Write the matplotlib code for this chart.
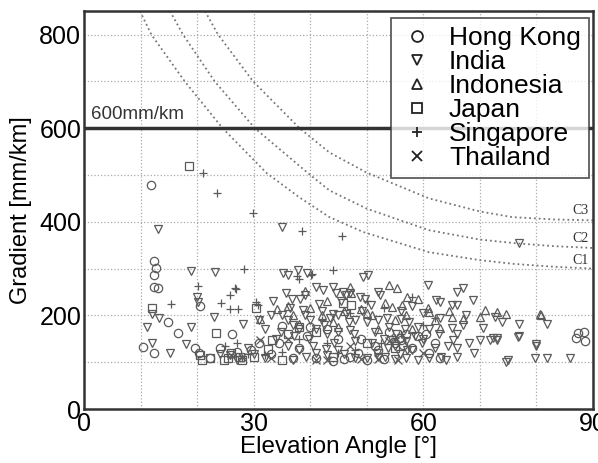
import matplotlib
matplotlib.use("Agg")
import matplotlib.pyplot as plt

plt.rcParams['font.family'] = ['Liberation Sans', 'DejaVu Sans']

# ---------------- data ----------------
hk_x = [11.8, 12.4, 12.7, 12.4, 12.3, 13.0, 14.9, 16.6, 10.5, 12.4, 19.6, 20.5, 22.2, 20.4, 26.2,
        87.4, 88.4, 88.6, 87.0, 33, 37, 41, 44, 46, 47, 49, 52, 54, 55, 56, 57, 58, 59, 61, 62, 63,
        45, 43, 40, 35, 38, 31, 50, 53, 24, 27, 29.5, 34.5, 39.5, 48.5, 51.5, 55.8, 56.5, 60.5]
hk_y = [478, 316, 301, 286, 261, 258, 185, 162, 133, 119, 131, 221, 110, 119, 160,
        162, 165, 145, 151, 118, 110, 108, 103, 106, 112, 150, 125, 165, 140, 148, 160, 130, 155, 120, 140, 110,
        150, 170, 175, 178, 130, 140, 105, 107, 130, 121, 125, 140, 155, 120, 135, 152, 137, 160]

india_x = [13.1, 19.0, 23.2, 19.9, 20.2, 12.1, 13.3, 11.2, 19.0, 23.0, 12.1, 15.2, 18.0, 24.0, 28.1,
           35.1, 35.2, 36.1, 37.9, 39.5, 49.4, 50.3, 60.9, 65.9, 67.1, 68.8, 77.0, 72.7, 73.9, 81.9,
           77.0, 72.4, 73.1, 77.0, 79.9, 75.0, 79.7, 81.8, 85.9, 70.0, 70.6, 62.3, 62.9, 65.0, 65.9,
           65.0, 65.9, 65.2, 65.9, 63.2, 41.1, 42.3, 44.0, 44.6, 45.8, 46.4, 47.0, 48.8, 49.7, 52.0,
           52.3, 41.5, 42.0, 44.0, 45.0, 46.4, 48.0, 50.0, 52.0, 53.5, 56.0, 40.0, 41.0, 43.0, 45.0,
           47.0, 48.0, 51.0, 53.0, 55.0, 57.0, 58.0, 60.0, 61.0, 62.0, 41.0, 43.0, 45.0, 46.0, 48.0,
           50.0, 52.0, 55.0, 57.0, 59.0, 61.0, 64.0, 35.8, 36.7, 38.2, 39.1, 35.0, 36.0, 37.0, 38.0,
           39.0, 34.0, 36.0, 38.0, 31.0, 32.0, 33.0, 30.0, 32.0, 29.0, 25.8, 27.0, 37.0, 67.5, 63.0,
           59.0, 57.5, 54.0, 56.0, 58.0, 60.0, 67.0, 68.0, 69.0, 66.0, 71.8, 73.0, 76.8, 74.7, 80.0,
           33.5, 34.8, 36.5, 39.8, 42.5, 44.2, 47.8, 49.2, 51.5, 53.8, 55.2, 56.8, 58.5, 54.5, 51.8,
           46.8, 43.5, 40.5, 38.8, 37.2, 53.2, 55.8, 57.2, 59.8, 62.8, 64.3, 50.8, 45.5, 42.8, 39.2]
india_y = [384, 295, 293, 240, 229, 203, 194, 176, 176, 197, 142, 119, 138, 117, 182,
           389, 290, 286, 297, 290, 283, 286, 265, 250, 258, 233, 354, 197, 186, 182,
           182, 151, 151, 156, 138, 105, 110, 110, 110, 147, 174, 233, 229, 222, 222,
           174, 160, 147, 112, 112, 261, 254, 261, 247, 250, 243, 247, 240, 236, 250,
           243, 225, 210, 203, 201, 204, 190, 185, 190, 195, 193, 190, 170, 160, 165,
           168, 145, 140, 150, 135, 145, 125, 150, 170, 130, 120, 115, 125, 118, 110,
           108, 112, 106, 108, 104, 108, 104, 247, 236, 236, 243, 200, 190, 180, 170,
           200, 150, 135, 125, 190, 170, 200, 118, 110, 130, 115, 105, 104, 200, 195,
           175, 185, 175, 210, 220, 205, 180, 140, 120, 130, 147, 147, 154, 101, 134,
           230, 165, 215, 150, 180, 140, 160, 210, 165, 130, 160, 170, 155, 148, 120,
           185, 195, 135, 212, 155, 112, 118, 125, 142, 160, 135, 222, 230, 128, 112]

indo_x = [34.1, 31.1, 54.0, 55.3, 57.1, 59.0, 73.0, 74.7, 80.7, 80.9, 70.9, 70.0, 65.0, 67.0,
          60.9, 61.0, 53.2, 54.4, 47.3, 49.0, 50.0, 51.0, 44.0, 40.0, 42.0, 37.0, 36.0, 38.0,
          46.0, 52.0, 55.0, 57.0, 58.0, 62.0, 63.0, 47.0, 43.0, 39.0, 45.0, 56.2, 64.5]
indo_y = [213, 192, 265, 258, 240, 236, 208, 204, 203, 201, 211, 197, 196, 192,
          215, 208, 226, 218, 247, 213, 205, 200, 185, 215, 200, 200, 220, 182,
          210, 170, 190, 200, 170, 190, 172, 260, 230, 252, 175, 222, 210]

japan_x = [18.6, 12.1, 23.3, 20.5, 20.8, 22.3, 30.4, 33.2, 25.5, 27.5, 28.0, 26.0, 30.0, 35.0,
           38.0, 45.8, 47.3, 41.0, 50.0, 55.0, 44.0, 36.0, 32.5, 24.8]
japan_y = [519, 215, 162, 115, 105, 108, 216, 147, 110, 112, 105, 120, 112, 105,
           175, 226, 222, 165, 140, 130, 112, 160, 128, 104]

sing_x = [21.1, 23.6, 29.9, 38.5, 45.6, 28.3, 44.0, 40.4, 37.6, 38.0, 40.1, 20.2, 15.3, 24.2,
          25.8, 26.9, 25.8, 27.2, 26.7, 30.4, 30.8, 27.0, 29.0, 28.0, 32.0, 35.0, 42.0, 47.0,
          50.0, 53.0, 38.0, 43.0, 56.0, 60.0, 45.0, 62.0, 58.0, 48.0, 25.0, 55.0, 52.5]
sing_y = [505, 461, 418, 381, 370, 300, 298, 288, 284, 277, 286, 263, 224, 227,
          243, 256, 213, 213, 258, 229, 222, 140, 118, 108, 115, 122, 190, 205,
          230, 215, 150, 140, 160, 180, 120, 195, 240, 125, 135, 152, 142]

thai_x = [31.1, 26.0, 28.0, 33.0, 41.0, 43.0, 49.0, 52.0, 55.5, 47.0, 54.0, 60.0, 36.0]
thai_y = [147, 115, 112, 108, 104, 105, 106, 106, 105, 135, 145, 120, 150]

c1_x = [9.9, 11.9, 17.8, 24.5, 32.3, 38.1, 43.4, 49.4, 61, 70, 76, 83, 90]
c1_y = [850, 800, 700, 600, 504, 452, 410, 378, 335, 318, 310, 304, 300]
c2_x = [15.2, 17.5, 23.1, 30.2, 40, 43.4, 50, 61, 70, 76.4, 83, 90]
c2_y = [850, 800, 700, 600, 500, 467, 428, 382, 362, 354, 348, 344]
c3_x = [21.4, 23.7, 29.9, 38.1, 43.4, 50, 61, 70, 75.7, 83, 90]
c3_y = [850, 800, 700, 600, 548, 505, 450, 422, 410, 405, 403]

threshold = 600

# ---------------- plot ----------------
fig = plt.figure(figsize=(5.98, 4.63), dpi=100)
ax = fig.add_axes([0.1405, 0.1166, 0.851, 0.8594])

ax.set_xlim(0, 90)
ax.set_ylim(0, 850)
ax.set_xticks([0, 30, 60, 90])
ax.set_xticks(range(0, 91, 10), minor=True)
ax.set_yticks([0, 200, 400, 600, 800])
ax.set_yticks(range(0, 851, 100), minor=True)
ax.grid(True, which='both', linestyle=':', color='#aaaaaa', linewidth=0.9)
ax.set_axisbelow(True)
ax.tick_params(which='both', direction='in', length=0, labelsize=18, pad=2)
for s in ax.spines.values():
    s.set_color('#333333')
    s.set_linewidth(1.8)

curve_kw = dict(color='#777777', linestyle=':', linewidth=1.3, zorder=2)
ax.plot(c1_x, c1_y, **curve_kw)
ax.plot(c2_x, c2_y, **curve_kw)
ax.plot(c3_x, c3_y, **curve_kw)

ax.axhline(threshold, color='#333333', linewidth=2.5, zorder=3)
ax.text(1.3, threshold + 12, '600mm/km', fontsize=13.5, color='#333333', va='bottom', ha='left')

lab_kw = dict(fontsize=10, family='Liberation Serif', color='#333333', ha='right', va='center')
ax.text(89.3, 425, 'C3', **lab_kw)
ax.text(89.3, 365, 'C2', **lab_kw)
ax.text(89.3, 318, 'C1', **lab_kw)

mk = dict(linestyle='none', markersize=6, markerfacecolor='none',
          markeredgecolor='#5a5a5a', markeredgewidth=0.9, zorder=4)
ax.plot(hk_x, hk_y, marker='o', label='Hong Kong', **mk)
ax.plot(india_x, india_y, marker='v', label='India', **mk)
ax.plot(indo_x, indo_y, marker='^', label='Indonesia', **mk)
ax.plot(japan_x, japan_y, marker='s', label='Japan', **mk)
ax.plot(sing_x, sing_y, marker='+', label='Singapore', **mk)
ax.plot(thai_x, thai_y, marker='x', label='Thailand', **mk)

leg = ax.legend(loc='upper right', fontsize=19, frameon=True, fancybox=False,
                edgecolor='#333333', labelspacing=0.0, handletextpad=0.5,
                handlelength=1.4, borderpad=0.3, markerscale=1.3,
                borderaxespad=0, bbox_to_anchor=(0.992, 0.982))
leg.get_frame().set_linewidth(1.3)
leg.set_zorder(10)
for h in leg.legend_handles:
    h.set_markeredgecolor('#222222')
    h.set_markeredgewidth(1.3)

ax.set_xlabel('Elevation Angle [°]', fontsize=17.5, labelpad=0)
ax.set_ylabel('Gradient [mm/km]', fontsize=17, labelpad=5)

fig.savefig('out.png', dpi=100)
